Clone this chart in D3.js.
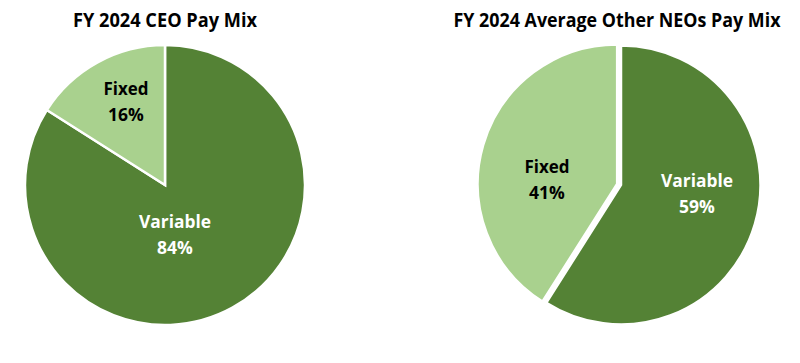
<!DOCTYPE html>
<html><head><meta charset="utf-8">
<script src="https://cdn.jsdelivr.net/npm/d3@7"></script>
<style>html,body{margin:0;padding:0;background:#fff;}</style>
</head><body>
<svg id="chart" width="800" height="363"></svg>
<script>
// ---- data ----
const titles = ["FY 2024 CEO Pay Mix", "FY 2024 Average Other NEOs Pay Mix"];
const categories = ["Variable", "Fixed"];
const ceoValues = [84, 16];
const neoValues = [59, 41];

// ---- layout (not data) ----
const colors = {Variable: "#548235", Fixed: "#A9D18E"};
const textColors = {Variable: "#ffffff", Fixed: "#000000"};
const pies = [
  {title: titles[0], values: ceoValues, cx: 165, cy: 185, r: 140, titleX: 165, titleW: 184,
   explode: {Variable: 0, Fixed: 0},
   labels: {Fixed: [126, 95], Variable: [175, 228]}},
  {title: titles[1], values: neoValues, cx: 621, cy: 185, r: 139.5, titleX: 617, titleW: 327,
   explode: {Variable: 0, Fixed: 4},
   labels: {Fixed: [547, 173], Variable: [697, 187]}}
];
const labelW = {Variable: 72, Fixed: 45};

const svg = d3.select("#chart");
const font = "'Open Sans', 'Liberation Sans', sans-serif";

pies.forEach(p => {
  const data = categories.map((c, i) => ({cat: c, value: p.values[i]}));
  const arcs = d3.pie().sort(null).value(d => d.value)(data);
  const arc = d3.arc().innerRadius(0).outerRadius(p.r);
  const g = svg.append("g").attr("transform", `translate(${p.cx},${p.cy})`);
  g.selectAll("path").data(arcs).join("path")
    .attr("d", arc)
    .attr("fill", d => colors[d.data.cat])
    .attr("stroke", "#fff")
    .attr("stroke-width", 2.5)
    .attr("stroke-linejoin", "miter")
    .attr("transform", d => {
      const e = p.explode[d.data.cat];
      const a = (d.startAngle + d.endAngle) / 2;
      return `translate(${e * Math.sin(a)},${-e * Math.cos(a)})`;
    });

  svg.append("text")
    .attr("x", p.titleX).attr("y", 27)
    .attr("text-anchor", "middle")
    .attr("font-family", font).attr("font-weight", 700)
    .attr("font-size", 19.5).attr("fill", "#000")
    .attr("textLength", p.titleW).attr("lengthAdjust", "spacingAndGlyphs")
    .text(p.title);

  arcs.forEach(d => {
    const [lx, ly] = p.labels[d.data.cat];
    const t = svg.append("text")
      .attr("text-anchor", "middle")
      .attr("font-family", font).attr("font-weight", 700)
      .attr("font-size", 17.5).attr("fill", textColors[d.data.cat]);
    t.append("tspan").attr("x", lx).attr("y", ly)
      .attr("textLength", labelW[d.data.cat]).attr("lengthAdjust", "spacingAndGlyphs")
      .text(d.data.cat);
    t.append("tspan").attr("x", lx).attr("y", ly + 26).text(d.data.value + "%");
  });
});
</script>
</body></html>
